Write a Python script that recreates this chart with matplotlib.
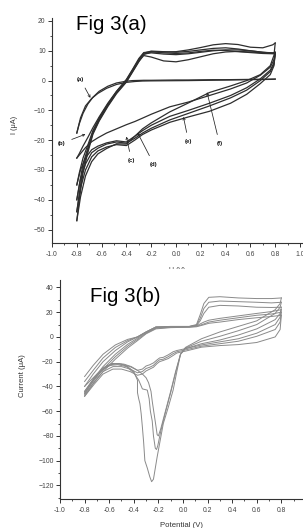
import matplotlib
matplotlib.use('Agg')
import matplotlib.pyplot as plt
from matplotlib.ticker import MultipleLocator
from matplotlib.patches import Rectangle

plt.rcParams['font.family'] = ['Liberation Sans', 'DejaVu Sans']

# ---------------- Fig 3(a) data ----------------
a_xf = [-0.80, -0.78, -0.75, -0.71, -0.67, -0.62, -0.55, -0.48, -0.40, -0.35, -0.30, -0.26,
        -0.20, -0.10, 0.00, 0.10, 0.20, 0.30, 0.40, 0.50, 0.60, 0.70, 0.78, 0.80]
a_xr = [0.80, 0.79, 0.76, 0.68, 0.57, 0.44, 0.27, 0.10, -0.05, -0.20, -0.27, -0.33,
        -0.40, -0.48, -0.56, -0.63, -0.68, -0.73, -0.77, -0.80]

curve_a_fwd = [-17.6, -14.5, -11.0, -7.8, -5.6, -3.6, -1.9, -0.8, -0.2, 0.0, 0.05, 0.1,
               0.1, 0.15, 0.2, 0.2, 0.25, 0.3, 0.3, 0.35, 0.4, 0.45, 0.5, 0.5]
curve_a_rev = [0.5, 0.45, 0.4, 0.35, 0.3, 0.2, 0.1, 0.0, -0.05, -0.1, -0.15, -0.3,
               -0.6, -1.3, -2.6, -4.3, -6.0, -8.5, -12.5, -17.6]

curve_b_fwd = [-26, -24.5, -22, -19, -15.8, -12.2, -7.6, -3.6, 0.4, 3.8, 7.4, 9.4,
               9.7, 9.3, 9.1, 9.3, 9.8, 10.2, 10.1, 9.7, 9.4, 9.1, 9.0, 9.2]
curve_b_rev = [9.2, 7.0, 4.5, 1.8, -0.8, -2.8, -5.0, -7.2, -8.8, -11.3, -12.6, -13.7,
               -14.8, -16.2, -17.6, -19.2, -20.5, -22.5, -24.5, -26]

curve_c_fwd = [-35, -31, -26, -21.5, -16.8, -12.6, -7.9, -3.7, 0.2, 3.6, 7.0, 9.2,
               9.9, 9.7, 9.5, 9.8, 10.3, 10.8, 11.0, 10.6, 10.0, 9.5, 9.3, 9.5]
curve_c_rev = [9.5, 6.0, 3.5, 0.6, -2.4, -5.0, -7.6, -10.0, -12.0, -15.0, -16.8, -18.6,
               -20.6, -20.2, -20.9, -22.0, -23.2, -26, -30, -35]

curve_d_fwd = [-40, -35, -28, -22.5, -17.2, -13.0, -8.1, -3.9, 0.0, 3.4, 6.8, 8.9,
               9.3, 8.9, 8.7, 9.0, 9.5, 10.0, 10.3, 10.3, 10.0, 9.5, 9.2, 9.0]
curve_d_rev = [9.0, 5.5, 3.0, 0.0, -3.2, -5.8, -8.5, -11.0, -13.2, -16.0, -17.6, -19.3,
               -21.0, -20.6, -21.3, -22.7, -24.2, -28, -33, -40]

curve_e_fwd = [-44, -38, -29.5, -23.2, -17.6, -13.3, -8.4, -4.1, -0.3, 3.1, 6.5, 8.4,
               7.9, 6.6, 6.3, 7.0, 8.0, 9.0, 9.6, 9.8, 9.6, 9.3, 9.2, 9.4]
curve_e_rev = [9.4, 5.0, 2.0, -1.0, -4.6, -7.6, -10.3, -12.2, -14.0, -16.6, -18.1, -19.9,
               -21.8, -21.5, -22.3, -23.6, -25.6, -30, -36, -44]

curve_f_fwd = [-47, -40, -31, -24, -18, -13.6, -8.7, -4.4, -0.5, 2.9, 6.3, 8.8,
               9.6, 9.6, 9.7, 10.3, 11.1, 12.0, 12.4, 12.1, 11.2, 11.0, 12.0, 12.6]
curve_f_rev = [12.6, 8.5, 5.0, 2.0, 0.0, -1.8, -4.0, -7.5, -10.5, -14.2, -16.2, -18.6,
               -21.3, -21.2, -22.8, -24.6, -27.2, -32, -39, -47]

a_curves = [(curve_a_fwd, curve_a_rev), (curve_b_fwd, curve_b_rev), (curve_c_fwd, curve_c_rev),
            (curve_d_fwd, curve_d_rev), (curve_e_fwd, curve_e_rev), (curve_f_fwd, curve_f_rev)]

a_labels = ['(a)', '(b)', '(c)', '(d)', '(e)', '(f)']
a_label_xy = [(-0.77, 0.3), (-0.92, -21.0), (-0.36, -26.7), (-0.18, -28.0), (0.10, -20.3), (0.35, -21.0)]
a_arrow_xy = [(-0.69, -5.8), (-0.73, -18.0), (-0.40, -18.8), (-0.31, -17.5), (0.06, -12.2), (0.25, -3.9)]

a_xticks = [-1.0, -0.8, -0.6, -0.4, -0.2, 0.0, 0.2, 0.4, 0.6, 0.8, 1.0]
a_yticks = [20, 10, 0, -10, -20, -30, -40, -50]

# ---------------- Fig 3(b) data ----------------
b_xf = [-0.80, -0.73, -0.65, -0.55, -0.45, -0.37, -0.30, -0.22, -0.10, 0.05, 0.11, 0.14,
        0.17, 0.21, 0.30, 0.45, 0.60, 0.72, 0.80]
loop1_fwd = [-32, -23, -14, -6.5, -2.0, 0.0, 4.0, 8.0, 8.5, 8.5, 10, 18, 27, 32, 32.5, 31.5, 31, 31, 31.5]
loop2_fwd = [-36, -27, -17, -8.5, -3.0, 0.0, 4.0, 8.0, 8.3, 8.4, 9.5, 15, 23, 28, 29, 28.5, 28, 27.5, 28]
loop3_fwd = [-40, -30, -20, -11, -4.0, 0.0, 4.0, 8.0, 8.2, 8.3, 9.2, 13, 19, 24, 25.5, 25, 24, 23.8, 24]
loop4_fwd = [-44, -34, -24, -14, -6, -1.0, 3.5, 7.5, 8.0, 8.2, 9.0, 10.5, 12, 13.5, 15, 17, 19, 20.5, 22]
loop5_fwd = [-46, -36, -26, -16, -7.5, -2.0, 3.0, 7.0, 7.8, 8.0, 8.6, 9.5, 10.5, 12, 13.5, 15.5, 17.5, 18.5, 20]
loop6_fwd = [-48, -38, -28, -18, -9, -3.0, 2.5, 6.5, 7.5, 7.8, 8.2, 9.0, 9.8, 11, 12, 14, 15.5, 16.5, 17.5]

loop1_rev_x = [0.80, 0.79, 0.75, 0.60, 0.45, 0.30, 0.15, 0.02, -0.02, -0.05, -0.08, -0.12, -0.16,
               -0.21, -0.24, -0.255, -0.27, -0.29, -0.31, -0.32, -0.33, -0.34, -0.35, -0.36, -0.37,
               -0.37, -0.40, -0.45, -0.52, -0.58, -0.65, -0.72, -0.80]
loop1_rev = [31.5, 27, 22, 13, 8.5, 4, -1.5, -8.5, -14, -28, -43, -57, -70,
             -97, -115, -117, -113, -106, -100, -85, -73, -62, -54, -50, -45,
             -35, -28, -24, -21.5, -21.5, -25, -33, -46]
loop2_rev_x = [0.80, 0.79, 0.75, 0.60, 0.45, 0.30, 0.15, 0.02, -0.02, -0.06, -0.10, -0.14, -0.18,
               -0.205, -0.215, -0.225, -0.24, -0.25, -0.265, -0.275, -0.29, -0.33, -0.36, -0.40,
               -0.46, -0.53, -0.60, -0.67, -0.74, -0.80]
loop2_rev = [28, 24, 19, 10, 5, 0.5, -3.5, -9, -14, -29, -45, -60, -76,
             -88, -91, -90, -80, -68, -60, -50, -43, -42, -35, -29,
             -24, -22.5, -23, -28, -36, -44]
loop3_rev_x = [0.80, 0.79, 0.75, 0.60, 0.45, 0.30, 0.15, 0.02, -0.02, -0.06, -0.10, -0.14, -0.18,
               -0.20, -0.21, -0.22, -0.235, -0.25, -0.26, -0.28, -0.30, -0.33, -0.37, -0.42,
               -0.48, -0.55, -0.62, -0.70, -0.80]
loop3_rev = [24, 19, 14, 6.5, 1.5, -2.5, -5.5, -9.5, -14, -28, -44, -59, -74,
             -80, -79, -72, -62, -52, -44, -37, -33, -30, -27, -24,
             -22, -21.5, -23.5, -30, -40]
gradual_rev_x = [0.80, 0.79, 0.75, 0.60, 0.45, 0.30, 0.15, 0.02, -0.05, -0.08, -0.12, -0.16, -0.19,
                 -0.21, -0.24, -0.27, -0.30, -0.33, -0.37, -0.43, -0.50, -0.57, -0.65, -0.72, -0.80]
loop4_rev = [22, 16, 10, 3, -1.5, -4, -6.5, -9.5, -11, -12, -14.5, -16.5, -17,
             -18.5, -21, -22.5, -23.5, -26, -27, -24, -22, -22, -26, -34, -45]
loop5_rev = [20, 12, 6, 0.5, -3.5, -5.5, -7.5, -10.5, -12, -13.5, -16, -18, -18.5,
             -20, -23, -24.5, -25.5, -28, -29, -26, -24, -24, -28, -36, -47]
loop6_rev = [17.5, 6, 0, -4.5, -6.2, -7, -8.3, -11.5, -13, -15, -17.5, -19, -20,
             -21.5, -24.5, -26, -27.5, -30, -31, -28, -26, -26, -30, -38, -48]

b_loops = [(loop1_fwd, loop1_rev_x, loop1_rev), (loop2_fwd, loop2_rev_x, loop2_rev),
           (loop3_fwd, loop3_rev_x, loop3_rev), (loop4_fwd, gradual_rev_x, loop4_rev),
           (loop5_fwd, gradual_rev_x, loop5_rev), (loop6_fwd, gradual_rev_x, loop6_rev)]

b_xticks = [-1.0, -0.8, -0.6, -0.4, -0.2, 0.0, 0.2, 0.4, 0.6, 0.8]
b_yticks = [40, 20, 0, -20, -40, -60, -80, -100, -120]

# ---------------- figure ----------------
W, H = 303, 528
fig = plt.figure(figsize=(W / 100, H / 100), dpi=100)
fig.patch.set_facecolor('white')


def fx(px):
    return px / W


def fy(py):
    return 1 - py / H


def style_axes(ax, xminor, yminor):
    for s in ['top', 'right']:
        ax.spines[s].set_visible(False)
    for s in ['left', 'bottom']:
        ax.spines[s].set_color('#333333')
        ax.spines[s].set_linewidth(0.8)
    ax.xaxis.set_minor_locator(MultipleLocator(xminor))
    ax.yaxis.set_minor_locator(MultipleLocator(yminor))
    ax.tick_params(which='major', direction='out', length=2.6, width=0.7, color='#333333',
                   labelsize=4.9, labelcolor='#444444')
    ax.tick_params(which='minor', direction='out', length=1.5, width=0.6, color='#333333')
    ax.tick_params(axis='x', which='major', pad=3.2)
    ax.tick_params(axis='y', which='major', pad=2.0)
    ax.set_facecolor('none')


# top axes
ax1 = fig.add_axes([fx(52), fy(243), fx(303) - fx(52), fy(18) - fy(243)])
for fwd, rev in a_curves:
    ax1.plot(a_xf, fwd, color='#2e2e2e', lw=0.9)
    ax1.plot(a_xr, rev, color='#2e2e2e', lw=0.9)
for lab, lxy, axy in zip(a_labels, a_label_xy, a_arrow_xy):
    ax1.annotate(lab, xy=axy, xytext=lxy, fontsize=4.3, fontweight='bold', color='#111111',
                 ha='center', va='center',
                 arrowprops=dict(arrowstyle='->', lw=0.55, color='#222222',
                                 shrinkA=2.5, shrinkB=0, mutation_scale=4))
ax1.set_xlim(-1.0, 1.024)
ax1.set_ylim(-54.5, 21)
ax1.set_xticks(a_xticks)
ax1.set_xticklabels([f'{v:.1f}' for v in a_xticks])
ax1.set_yticks(a_yticks)
style_axes(ax1, 0.1, 5)
ax1.set_xlabel('U (V)', fontsize=5.0, color='#444444', labelpad=6.5)
fig.text(fx(14), fy(125), 'I (μA)', rotation=90, fontsize=5.3, color='#333333',
         ha='center', va='center')
fig.text(fx(76), fy(30.5), 'Fig 3(a)', fontsize=14.8, color='black', ha='left', va='baseline')

# mask covering the lower half of the top x label (as in the reference)
fig.add_artist(Rectangle((0, fy(278)), 1, fy(268.5) - fy(278), transform=fig.transFigure,
                         facecolor='white', edgecolor='none', zorder=5))

# bottom axes
ax2 = fig.add_axes([fx(60), fy(499), fx(303) - fx(60), fy(280) - fy(499)])
for fwd, rx, rev in b_loops:
    ax2.plot(b_xf, fwd, color='#8a8a8a', lw=0.7)
    ax2.plot(rx, rev, color='#8a8a8a', lw=0.7)
ax2.set_xlim(-1.0, 0.976)
ax2.set_ylim(-131, 46)
ax2.set_xticks(b_xticks)
ax2.set_xticklabels([f'{v:.1f}' for v in b_xticks])
ax2.set_yticks(b_yticks)
style_axes(ax2, 0.1, 10)
ax2.set_xlabel('Potential (V)', fontsize=5.6, color='#333333', labelpad=6.0)
fig.text(fx(22), fy(376), 'Current (μA)', rotation=90, fontsize=5.6, color='#333333',
         ha='center', va='center')
fig.text(fx(90), fy(302), 'Fig 3(b)', fontsize=14.8, color='black', ha='left', va='baseline')

fig.savefig('out.png', dpi=100, facecolor='white')
